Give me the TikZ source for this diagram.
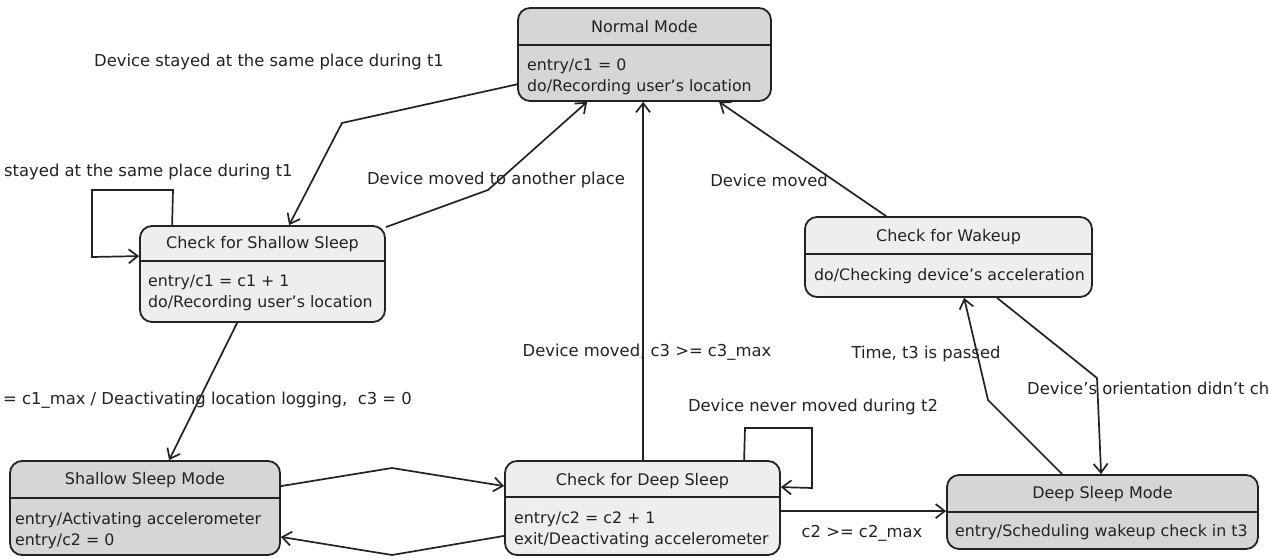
\documentclass[tikz,border=0pt]{standalone}
\usepackage{fontspec}
\setmainfont{DejaVu Sans}
\usetikzlibrary{arrows.meta,calc}
\definecolor{modefill}{HTML}{D6D6D6}
\definecolor{checkfill}{HTML}{EEEEEE}
\definecolor{ink}{HTML}{222222}
\tikzset{
  stbox/.style={draw=ink, line width=1.8pt, rounded corners=12pt, inner sep=0pt},
  divider/.style={draw=ink, line width=1.8pt},
  ttl/.style={font=\fontsize{16}{18}\selectfont, text=ink, inner sep=0pt},
  bodytxt/.style={font=\fontsize{15.8}{21}\selectfont, text=ink, inner sep=0pt, align=left, anchor=west},
  lbl/.style={font=\fontsize{16.4}{18}\selectfont, text=ink, inner sep=0pt},
  tr/.style={draw=ink, line width=1.7pt, -{Straight Barb[length=9pt,width=14pt,line width=1.7pt]}},
}
\begin{document}
\begin{tikzpicture}[x=1pt,y=-1pt]
\useasboundingbox (0,0) rectangle (1269,559);
% ---- states ----
% Normal Mode 518-771, 8-101
\node[stbox, fill=modefill, minimum width=253pt, minimum height=93pt] (nm) at (644.5,54.5) {};
\draw[divider] (518,45) -- (771,45);
\node[ttl] (nmt) at (644.5,27) {Normal Mode};
\node[bodytxt] (nmb) at (527,76.5) {entry/c1 = 0\\do/Recording user's location};
% Check for Shallow Sleep 140-385, 226-322
\node[stbox, fill=checkfill, minimum width=245pt, minimum height=96pt] (css) at (262.5,274) {};
\draw[divider] (140,261) -- (385,261);
\node[ttl] (csst) at (262.5,244) {Check for Shallow Sleep};
\node[bodytxt] (cssb) at (148,292.5) {entry/c1 = c1 + 1\\do/Recording user's location};
% Check for Wakeup 805-1092, 217-297
\node[stbox, fill=checkfill, minimum width=287pt, minimum height=80pt] (cfw) at (948.5,257) {};
\draw[divider] (805,254) -- (1092,254);
\node[ttl] (cfwt) at (948.5,237) {Check for Wakeup};
\node[bodytxt] (cfwb) at (814,276) {do/Checking device's acceleration};
% Shallow Sleep Mode 10-280, 461-555
\node[stbox, fill=modefill, minimum width=270pt, minimum height=94pt] (ssm) at (145,508) {};
\draw[divider] (10,498) -- (280,498);
\node[ttl] (ssmt) at (145,480) {Shallow Sleep Mode};
\node[bodytxt] (ssmb) at (15,530.5) {entry/Activating accelerometer\\entry/c2 = 0};
% Check for Deep Sleep 505-780, 461-555
\node[stbox, fill=checkfill, minimum width=275pt, minimum height=94pt] (cds) at (642.5,508) {};
\draw[divider] (505,497) -- (780,497);
\node[ttl] (cdst) at (642.5,481) {Check for Deep Sleep};
\node[bodytxt] (cdsb) at (514,530) {entry/c2 = c2 + 1\\exit/Deactivating accelerometer};
% Deep Sleep Mode 947-1258, 475-549
\node[stbox, fill=modefill, minimum width=311pt, minimum height=74pt] (dsm) at (1102.5,512) {};
\draw[divider] (947,512) -- (1258,512);
\node[ttl] (dsmt) at (1102.5,494) {Deep Sleep Mode};
\node[bodytxt] (dsmb) at (955,532) {entry/Scheduling wakeup check in t3};
% ---- bend points ----
\coordinate (b1) at (342,123);
\coordinate (b2) at (488,190);
\coordinate (l1a) at (173,190);
\coordinate (l1b) at (92,190);
\coordinate (l1c) at (92,257);
\coordinate (b5) at (392,468);
\coordinate (b6) at (392,555);
\coordinate (l2a) at (745,428);
\coordinate (l2b) at (812,428);
\coordinate (l2c) at (812,488);
\coordinate (b10) at (988,400);
\coordinate (b11) at (1097,378);
% ---- transitions ----
\draw[tr] ($(nm.north west)+(1,77)$) -- (b1) -- ($(css.north west)+(150,0)$);
\draw[tr] ($(css.north east)+(0,2)$) -- (b2) -- ($(nm.south west)+(70,0)$);
\draw[tr] ($(css.north west)+(33,0)$) -- (l1a) -- (l1b) -- (l1c) -- ($(css.north west)+(0,31)$);
\draw[tr] ($(css.south west)+(98,0)$) -- ($(ssm.north west)+(160,0)$);
\draw[tr] ($(ssm.north east)+(0,26)$) -- (b5) -- ($(cds.north west)+(0,26)$);
\draw[tr] ($(cds.south west)+(0,-20)$) -- (b6) -- ($(ssm.south east)+(0,-19)$);
\draw[tr] ($(cds.north west)+(139,0)$) -- ($(nm.south west)+(126,0)$);
\draw[tr] ($(cds.north west)+(240,0)$) -- (l2a) -- (l2b) -- (l2c) -- ($(cds.north east)+(0,27)$);
\draw[tr] ($(cds.north east)+(0,51)$) -- ($(dsm.north west)+(0,37)$);
\draw[tr] ($(dsm.north west)+(116,0)$) -- (b10) -- ($(cfw.south west)+(160,0)$);
\draw[tr] ($(cfw.south west)+(193,0)$) -- (b11) -- ($(dsm.north west)+(155,0)$);
\draw[tr] ($(cfw.north west)+(82,0)$) -- ($(nm.south west)+(202,0)$);
% ---- labels ----
\node[lbl] (t1) at (269,62) {Device stayed at the same place during t1};
\node[lbl, anchor=west] (t2) at (4,172) {stayed at the same place during t1};
\node[lbl] (t3) at (496,180) {Device moved to another place};
\node[lbl] (t4) at (769,180) {Device moved};
\node[lbl, anchor=west] (t5) at (3,400) {= c1\_max / Deactivating location logging,\ \ c3 = 0};
\node[lbl] (t6) at (647,352) {Device moved, c3 >= c3\_max};
\node[lbl] (t7) at (813,407) {Device never moved during t2};
\node[lbl] (t8) at (926,354) {Time, t3 is passed};
\node[lbl, anchor=west] (t9) at (1027,388) {Device's orientation didn't ch};
\node[lbl] (t10) at (862,533) {c2 >= c2\_max};
\end{tikzpicture}
\end{document}
